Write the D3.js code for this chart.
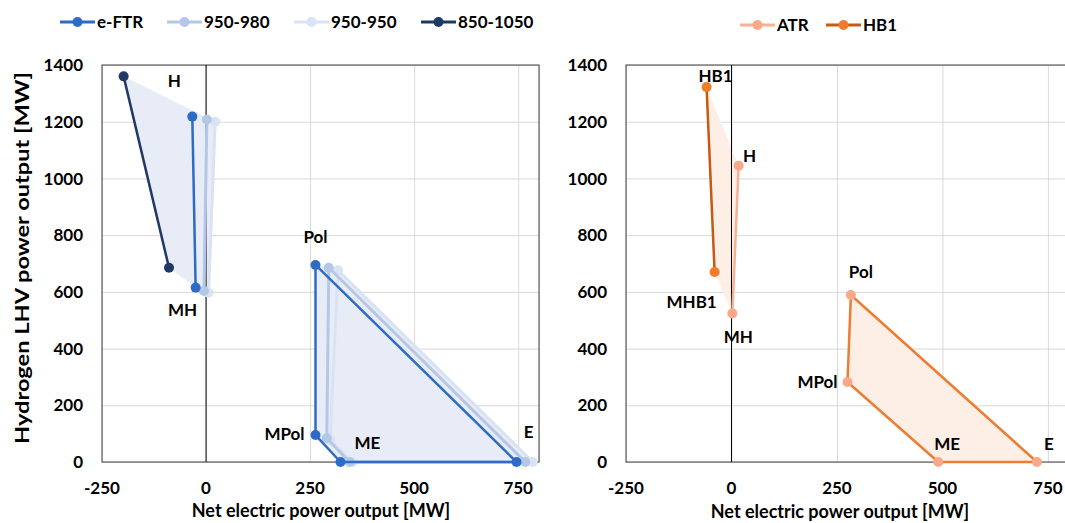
<!DOCTYPE html>
<html lang="en">
<head>
    <meta charset="UTF-8">
    <title>Operating envelopes</title>
    <script src="https://cdn.jsdelivr.net/npm/d3@7"></script>
    <style>
        body { margin: 0; background: #fff; }
        svg text { font-family: Lato, "Open Sans", sans-serif; font-weight: bold; fill: #000; }
    </style>
</head>
<body>
<script>

    // corner points of each operating envelope, in order H, MH, Pol, MPol, ME, E
    var pointNames = ["H", "MH", "Pol", "MPol", "ME", "E"];
    var xTicks = [-250, 0, 250, 500, 750];
    var yTicks = [0, 200, 400, 600, 800, 1000, 1200, 1400];

    var eftrX   = [-33, -25, 263, 263, 323, 746];
    var eftrY   = [1218, 615, 695, 95, 0, 0];
    var s950980X = [2, -5, 295, 290, 345, 767];
    var s950980Y = [1208, 603, 685, 84, 0, 0];
    var s950950X = [22, 6, 317, 298, 352, 785];
    var s950950Y = [1200, 597, 676, 77, 0, 0];
    var s8501050X = [-198, -89];
    var s8501050Y = [1360, 685];

    var atrX = [17, 2, 283, 275, 490, 724];
    var atrY = [1045, 524, 589, 282, 0, 0];
    var hb1Names = ["HB1", "MHB1"];
    var hb1X = [-59, -40];
    var hb1Y = [1322, 670];

    var width = 1065, height = 523;

    var svg = d3.select("body").append("svg")
        .attr("width", width)
        .attr("height", height);

    function pts(xs, ys) {
        return xs.map(function(v, i) { return [v, ys[i]]; });
    }

    // one panel: scales, grid, frame, tick labels
    function panel(left, right) {
        var x = d3.scaleLinear().domain([-250, 800]).range([left, right]);
        var y = d3.scaleLinear().domain([0, 1400]).range([462, 65]);
        var g = svg.append("g");

        g.append("g").attr("transform", "translate(0,462)")
            .call(d3.axisBottom(x).tickValues(xTicks.concat([800])).tickSize(-(462 - 65)).tickFormat(""))
            .call(function(a) { a.select(".domain").remove(); a.selectAll("line").attr("stroke", "#d9d9d9"); });
        g.append("g").attr("transform", "translate(" + left + ",0)")
            .call(d3.axisLeft(y).tickValues(yTicks).tickSize(-(right - left)).tickFormat(""))
            .call(function(a) { a.select(".domain").remove(); a.selectAll("line").attr("stroke", "#d9d9d9"); });

        g.selectAll(".yl").data(yTicks).enter().append("text")
            .attr("x", left - 19)
            .attr("y", function(d) { return y(d); })
            .attr("dy", "0.36em")
            .attr("text-anchor", "end")
            .style("font-size", "17px")
            .text(function(d) { return d; });
        g.selectAll(".xl").data(xTicks).enter().append("text")
            .attr("x", function(d) { return x(d); })
            .attr("y", 494)
            .attr("text-anchor", "middle")
            .style("font-size", "17px")
            .text(function(d) { return d; });

        return { x: x, y: y, g: g, left: left, right: right };
    }

    function frame(p) {
        p.g.append("rect")
            .attr("x", p.left).attr("y", 65)
            .attr("width", p.right - p.left).attr("height", 462 - 65)
            .attr("fill", "none").attr("stroke", "#404040").attr("stroke-width", 1);
        p.g.append("line")
            .attr("x1", p.x(0)).attr("x2", p.x(0))
            .attr("y1", 65).attr("y2", 462)
            .attr("stroke", "#000").attr("stroke-width", 1);
    }

    function hull(p, list, color) {
        var h = d3.polygonHull(list);
        p.g.append("path")
            .attr("d", "M" + h.map(function(d) { return [p.x(d[0]), p.y(d[1])]; }).join("L") + "Z")
            .attr("fill", color);
    }

    function path(p, list, color, w, closed) {
        var line = d3.line().x(function(d) { return p.x(d[0]); }).y(function(d) { return p.y(d[1]); });
        p.g.append("path")
            .attr("d", line(list) + (closed ? "Z" : ""))
            .attr("fill", "none")
            .attr("stroke", color)
            .attr("stroke-width", w)
            .attr("stroke-linejoin", "round");
    }

    function dots(p, list, color) {
        p.g.selectAll(null).data(list).enter().append("circle")
            .attr("cx", function(d) { return p.x(d[0]); })
            .attr("cy", function(d) { return p.y(d[1]); })
            .attr("r", 5)
            .attr("fill", color);
    }

    // draws one H-MH segment plus the Pol-MPol-ME-E quad
    function series(p, list, lineColor, dotColor, w, quadColor) {
        path(p, list.slice(0, 2), lineColor, w, false);
        if (list.length > 2) path(p, list.slice(2), quadColor || lineColor, w, true);
        dots(p, list, dotColor);
    }

    function label(p, name, pt, dx, dy) {
        p.g.append("text")
            .attr("x", p.x(pt[0]) + dx)
            .attr("y", p.y(pt[1]) + dy)
            .attr("text-anchor", "middle")
            .style("font-size", "17px")
            .text(name);
    }

    function legend(items, y) {
        items.forEach(function(it) {
            svg.append("line").attr("x1", it.x).attr("x2", it.x + 35)
                .attr("y1", y).attr("y2", y)
                .attr("stroke", it.line).attr("stroke-width", 3);
            svg.append("circle").attr("cx", it.x + 17.5).attr("cy", y).attr("r", 5).attr("fill", it.dot);
            svg.append("text").attr("x", it.x + 37).attr("y", y).attr("dy", "0.36em")
                .style("font-size", "17px").text(it.name);
        });
    }

    // ---- left panel
    var L = panel(102, 539);
    var eftr = pts(eftrX, eftrY), a980 = pts(s950980X, s950980Y),
        a950 = pts(s950950X, s950950Y), a850 = pts(s8501050X, s8501050Y);

    hull(L, [eftr[0], eftr[1], a980[0], a980[1], a950[0], a950[1], a850[0], a850[1]], "#e8ecf6");
    hull(L, eftr.slice(2).concat(a980.slice(2), a950.slice(2)), "#e8ecf6");
    frame(L);
    series(L, a950, "#dae3f3", "#dae3f3", 3);
    series(L, a980, "#b4c7e7", "#b4c7e7", 3);
    series(L, a850, "#1f3864", "#1f3864", 2.5);
    series(L, eftr, "#2e6bc6", "#2e6bc6", 2.5);

    var leftOffsets = [[-18, -30], [-13, 28], [0, -22], [-31, 5], [27, -13], [12, -24]];
    pointNames.forEach(function(n, i) { label(L, n, eftr[i], leftOffsets[i][0], leftOffsets[i][1]); });

    // ---- right panel
    var R = panel(626, 1069);
    var atr = pts(atrX, atrY), hb1 = pts(hb1X, hb1Y);

    hull(R, [atr[0], atr[1], hb1[0], hb1[1]], "#fdeee6");
    hull(R, atr.slice(2), "#fdeee6");
    frame(R);
    series(R, atr, "#f8b196", "#f9a98a", 2.5, "#ed7d31");
    series(R, hb1, "#c55a11", "#f07c2a", 2.5);

    var rightOffsets = [[11, -4], [6, 30], [10, -17], [-30, 6], [9, -12], [12, -12]];
    pointNames.forEach(function(n, i) { label(R, n, atr[i], rightOffsets[i][0], rightOffsets[i][1]); });
    var hb1Offsets = [[9, -5], [-23, 36]];
    hb1Names.forEach(function(n, i) { label(R, n, hb1[i], hb1Offsets[i][0], hb1Offsets[i][1]); });

    // ---- legends
    legend([
        { name: "e-FTR", x: 60, line: "#2e6bc6", dot: "#2e6bc6" },
        { name: "950-980", x: 167, line: "#b4c7e7", dot: "#b4c7e7" },
        { name: "950-950", x: 294, line: "#dae3f3", dot: "#dae3f3" },
        { name: "850-1050", x: 421, line: "#1f3864", dot: "#1f3864" }
    ], 22);
    legend([
        { name: "ATR", x: 740, line: "#f8b196", dot: "#f9a98a" },
        { name: "HB1", x: 826, line: "#c55a11", dot: "#f07c2a" }
    ], 25);

    // ---- axis titles
    svg.append("text")
        .attr("transform", "translate(29,258) rotate(-90)")
        .attr("text-anchor", "middle")
        .style("font-size", "18px")
        .attr("textLength", 372)
        .attr("lengthAdjust", "spacingAndGlyphs")
        .text("Hydrogen LHV power output [MW]");
    svg.append("text")
        .attr("x", 321).attr("y", 517)
        .attr("text-anchor", "middle")
        .style("font-size", "18px")
        .text("Net electric power output [MW]");
    svg.append("text")
        .attr("x", 840).attr("y", 518)
        .attr("text-anchor", "middle")
        .style("font-size", "18px")
        .text("Net electric power output [MW]");

</script>
</body>
</html>
